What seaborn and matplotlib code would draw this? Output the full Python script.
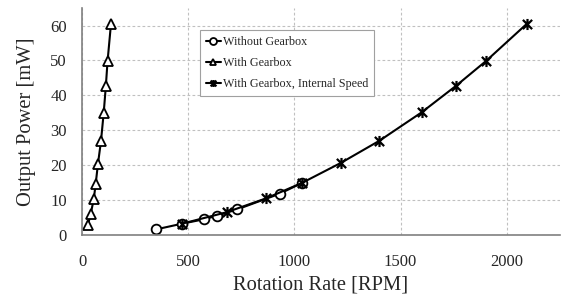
import numpy as np
import pandas as pd
import matplotlib.pyplot as plt
from matplotlib.path import Path
import seaborn as sns

# data
rpm_no_gear = [350, 470, 576, 636, 730, 931, 1036]
pwr_no_gear = [1.6, 3.2, 4.5, 5.5, 7.3, 11.8, 14.9]

rpm_gear = [27, 41, 55, 64, 75, 89, 102, 112, 120, 136]
pwr_gear = [2.7, 6.1, 10.2, 14.5, 20.4, 26.8, 35.0, 42.6, 49.7, 60.3]

rpm_internal = [470, 681, 868, 1036, 1221, 1401, 1599, 1763, 1904, 2095]
pwr_internal = [3.2, 6.5, 10.5, 14.9, 20.7, 27.0, 35.1, 42.8, 49.9, 60.5]

# excel style star: an x with a vertical bar
star = Path([(-1, -1), (1, 1), (-1, 1), (1, -1), (0, -1.2), (0, 1.2)],
            [Path.MOVETO, Path.LINETO, Path.MOVETO, Path.LINETO, Path.MOVETO, Path.LINETO])

sns.set_style('whitegrid')
plt.rcParams['font.family'] = ['Liberation Serif', 'DejaVu Serif']

fig = plt.figure(figsize=(5.62, 3.0), dpi=100)
ax = fig.add_axes([0.146, 0.217, 0.85, 0.756])

sns.lineplot(x=rpm_no_gear, y=pwr_no_gear, ax=ax, color='black', lw=1.5, sort=False,
             marker='o', markersize=7, markerfacecolor='white', markeredgecolor='black',
             markeredgewidth=1.3, label='Without Gearbox')
sns.lineplot(x=rpm_gear, y=pwr_gear, ax=ax, color='black', lw=1.5, sort=False,
             marker='^', markersize=7.5, markerfacecolor='white', markeredgecolor='black',
             markeredgewidth=1.3, label='With Gearbox')
sns.lineplot(x=rpm_internal, y=pwr_internal, ax=ax, color='black', lw=1.5, sort=False,
             marker=star, markersize=8, markeredgecolor='black',
             markeredgewidth=1.6, label='With Gearbox, Internal Speed')

ax.set_xlim(0, 2250)
ax.set_ylim(0, 65)
ax.set_xticks([0, 500, 1000, 1500, 2000])
ax.set_yticks([0, 10, 20, 30, 40, 50, 60])
ax.tick_params(labelsize=12, length=0)
ax.tick_params(axis='x', pad=14)
ax.tick_params(axis='y', pad=11)
ax.grid(True, color='#c0c0c0', ls=(0, (2.5, 2)), lw=0.8)
for s in ['top', 'right']:
    ax.spines[s].set_visible(False)
for s in ['left', 'bottom']:
    ax.spines[s].set_color('#808080')
    ax.spines[s].set_linewidth(1.2)

ax.set_xlabel('Rotation Rate [RPM]', fontsize=14.8, labelpad=4)
ax.set_ylabel('Output Power [mW]', fontsize=14.8, labelpad=10)

leg = ax.legend(loc='upper left', bbox_to_anchor=(0.247, 0.903), borderaxespad=0,
                fontsize=8.7, frameon=True, fancybox=False, framealpha=1,
                edgecolor='#a0a0a0', handlelength=1.2, handletextpad=0.2,
                borderpad=0.5, labelspacing=0.73)
leg.get_frame().set_linewidth(0.8)
for h in leg.get_lines():
    h.set_markersize(5)

fig.savefig('out.png', dpi=100)
